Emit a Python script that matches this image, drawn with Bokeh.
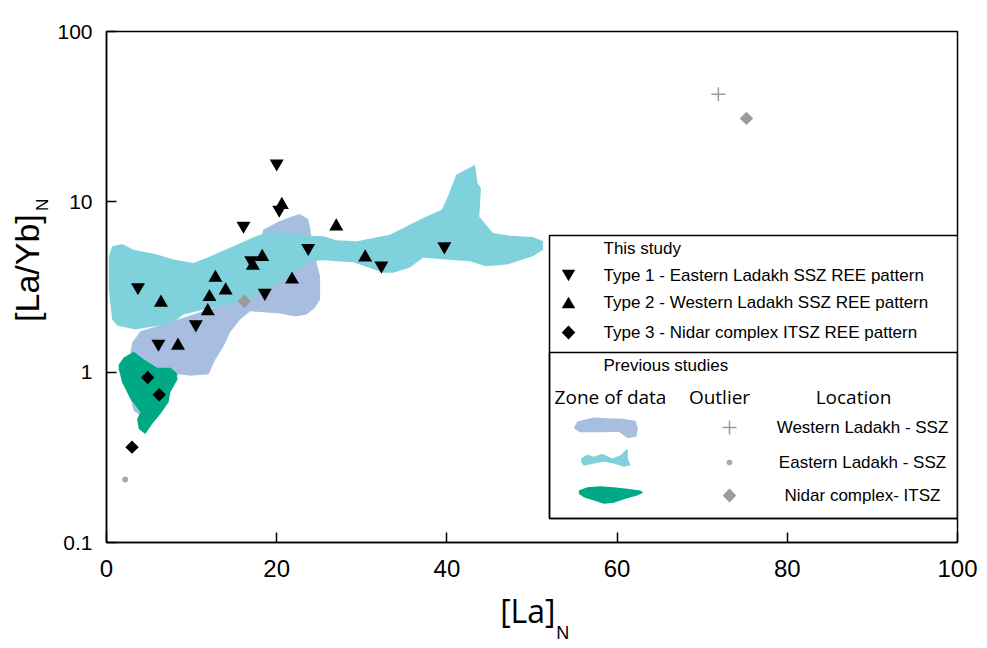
import numpy as np
from bokeh.plotting import figure
from bokeh.models import (FixedTicker, Label, BoxAnnotation, PolyAnnotation, Range1d,
                          LinearAxis, LogAxis, CustomJSTickFormatter)
from bokeh.embed import file_html
from bokeh.resources import INLINE

# ---------------- data ----------------
# This study
type1_la = [20.0, 20.3, 16.1, 3.7, 17.0, 23.7, 18.6, 10.5, 6.1, 32.3, 39.7]
type1_ratio = [16.8, 8.98, 7.24, 3.15, 4.54, 5.36, 2.92, 1.91, 1.47, 4.22, 5.48]
type2_la = [20.6, 27.0, 18.3, 17.2, 12.8, 14.0, 12.1, 11.9, 6.4, 8.4, 21.8, 30.4]
type2_ratio = [9.6, 7.17, 4.75, 4.22, 3.58, 3.02, 2.76, 2.28, 2.56, 1.43, 3.50, 4.72]
type3_la = [4.84, 6.2, 3.0]
type3_ratio = [0.93, 0.736, 0.363]

# Previous studies - outliers
west_out_la = [71.9]
west_out_ratio = [42.8]
east_out_la = [2.2]
east_out_ratio = [0.234]
nidar_out_la = [16.2, 75.2]
nidar_out_ratio = [2.61, 30.9]

# Previous studies - zones of data
east_zone_la = [0.66, 1.84, 3.20, 5.94, 7.89, 10.2, 11.8, 14.9, 17.7, 19.2, 21.6, 23.9, 25.5, 27.0,
                29.4, 33.3, 37.2, 39.4, 40.1, 41.1, 43.3, 43.6, 44.0, 43.8, 45.4, 47.4, 50.1, 51.3,
                51.3, 50.1, 47.0, 44.6, 42.7, 37.2, 35.6, 33.7, 32.5, 30.9, 29.0, 27.0, 25.5, 23.9,
                22.4, 20.0, 17.3, 14.5, 11.8, 9.06, 7.50, 5.94, 3.40, 1.25, 0.66, 0.27, 0.27]
east_zone_ratio = [5.48, 5.65, 5.24, 4.90, 4.58, 4.38, 4.69, 5.48, 6.32, 6.70, 6.56, 6.32, 6.27, 5.94,
                   5.86, 6.41, 8.03, 8.97, 10.7, 14.4, 16.5, 12.9, 12.0, 8.21, 6.56, 6.32, 6.21, 5.86,
                   5.24, 4.79, 4.28, 4.19, 4.48, 4.69, 4.10, 3.83, 3.83, 4.10, 4.42, 4.48, 4.54, 4.48,
                   4.00, 3.27, 2.79, 2.50, 2.36, 2.18, 1.91, 1.87, 1.78, 1.88, 2.04, 3.06, 4.79]

west_zone_la = [3.01, 3.99, 7.89, 13.7, 16.9, 18.4, 20.0, 21.6, 22.7, 23.7, 23.9, 24.1, 24.7, 25.1,
                25.1, 24.5, 23.5, 22.2, 20.4, 16.9, 15.7, 14.5, 13.8, 12.8, 12.0, 9.85, 8.48, 7.50,
                5.94, 3.99, 3.20, 2.73, 2.61]
west_zone_ratio = [1.49, 1.74, 2.00, 2.50, 3.20, 6.86, 7.57, 8.14, 8.47, 7.92, 7.17, 6.00, 4.38, 3.66,
                   2.67, 2.39, 2.18, 2.12, 2.21, 2.28, 2.04, 1.71, 1.43, 1.19, 0.973, 0.952, 0.973, 0.871,
                   0.665, 0.555, 0.594, 0.727, 1.14]

nidar_zone_la = [1.44, 2.03, 3.20, 4.37, 5.94, 7.50, 8.21, 8.36, 7.50, 7.30, 6.33, 5.36, 4.57, 3.79,
                 3.60, 3.99, 2.81, 1.84, 1.44]
nidar_zone_ratio = [1.11, 1.22, 1.32, 1.19, 1.06, 1.06, 0.996, 0.910, 0.761, 0.665, 0.568, 0.497, 0.434,
                    0.464, 0.531, 0.581, 0.695, 0.871, 1.04]

x_ticks = [0, 20, 40, 60, 80, 100]
y_ticks = [0.1, 1, 10, 100]
y_tick_labels = ["0.1", "1", "10", "100"]

x_title = "[La]"
y_title = "[La/Yb]"
title_sub = "N"
x_sub_at = [53.6]     # where the subscript N sits along the x axis
y_sub_at = [9.6]      # where the subscript N sits along the y axis

legend_types = ["Type 1 - Eastern Ladakh SSZ REE pattern",
                "Type 2 - Western Ladakh SSZ REE pattern",
                "Type 3 - Nidar complex ITSZ  REE pattern"]
legend_locations = ["Western Ladakh - SSZ", "Eastern Ladakh - SSZ", "Nidar complex- ITSZ"]

# ---------------- style ----------------
C_WEST = "#a7bee0"
C_EAST = "#7fd2db"
C_NIDAR = "#00a985"
C_GREY = "#9b9b9b"
HELV = "Liberation Sans"
NB = "\u00a0"

p = figure(width=984, height=645, x_range=Range1d(0, 100), y_range=Range1d(0.1, 100),
           y_axis_type="log", output_backend="svg", toolbar_location=None,
           min_border_left=106, min_border_right=27, min_border_top=31, min_border_bottom=101)
p.xgrid.visible = False
p.ygrid.visible = False
p.outline_line_color = "black"
p.outline_line_width = 1.5
p.outline_line_alpha = 1
p.background_fill_color = "white"
p.border_fill_color = "white"

for ax in (p.xaxis[0], p.yaxis[0]):
    ax.axis_line_width = 1.5
    ax.major_tick_line_width = 1.5
    ax.major_tick_in = 10
    ax.major_tick_out = 0
    ax.minor_tick_line_color = None
    ax.major_label_text_color = "black"
    ax.axis_label_text_font_style = "normal"
    ax.axis_label_text_color = "black"

p.xaxis.ticker = FixedTicker(ticks=x_ticks)
p.xaxis.major_label_text_font = HELV
p.xaxis.major_label_text_font_size = "24px"
p.xaxis.major_label_standoff = 17
p.xaxis.axis_label = x_title + NB
p.xaxis.axis_label_text_font = "Open Sans"
p.xaxis.axis_label_text_font_size = "32px"
p.xaxis.axis_label_standoff = 9

p.yaxis.ticker = FixedTicker(ticks=y_ticks, minor_ticks=[])
p.yaxis.major_label_overrides = {t: l for t, l in zip(y_ticks, y_tick_labels)}
p.yaxis.major_label_text_font = HELV
p.yaxis.major_label_text_font_size = "21px"
p.yaxis.major_label_standoff = 14
p.yaxis.axis_label = NB * 4 + y_title
p.yaxis.axis_label_text_font = HELV
p.yaxis.axis_label_text_font_size = "34px"
p.yaxis.axis_label_standoff = 8

# subscript N of the axis titles, carried by bare extra axes
sub_fmt = CustomJSTickFormatter(code="return '%s';" % title_sub)
x_sub = LinearAxis(ticker=FixedTicker(ticks=x_sub_at, minor_ticks=[]), formatter=sub_fmt,
                   axis_line_color=None, major_tick_line_color=None, minor_tick_line_color=None,
                   major_tick_in=0, major_tick_out=0, major_label_standoff=-12,
                   major_label_text_font=HELV, major_label_text_font_size="18px",
                   major_label_text_color="black")
p.add_layout(x_sub, "below")
y_sub = LogAxis(ticker=FixedTicker(ticks=y_sub_at, minor_ticks=[]), formatter=sub_fmt,
                axis_line_color=None, major_tick_line_color=None, minor_tick_line_color=None,
                major_tick_in=0, major_tick_out=0, major_label_standoff=-47,
                major_label_orientation="parallel",
                major_label_text_font=HELV, major_label_text_font_size="17px",
                major_label_text_color="black")
p.add_layout(y_sub, "left")

# zones
p.patch(west_zone_la, west_zone_ratio, fill_color=C_WEST, line_color=None)
p.patch(east_zone_la, east_zone_ratio, fill_color=C_EAST, line_color=None)
p.patch(nidar_zone_la, nidar_zone_ratio, fill_color=C_NIDAR, line_color=None)

# outliers from previous studies
p.scatter(west_out_la, west_out_ratio, marker="cross", size=14, line_color=C_GREY, line_width=1.5)
p.scatter(east_out_la, east_out_ratio, marker="circle", size=6, fill_color="#a9a9a9", line_color=None)
p.scatter(nidar_out_la, nidar_out_ratio, marker="square", angle=np.pi / 4, size=9.5,
          fill_color=C_GREY, line_color=None)

# this study
p.scatter(type1_la, type1_ratio, marker="inverted_triangle", size=14, fill_color="black", line_color=None)
p.scatter(type2_la, type2_ratio, marker="triangle", size=14, fill_color="black", line_color=None)
p.scatter(type3_la, type3_ratio, marker="square", angle=np.pi / 4, size=9.5, fill_color="black", line_color=None)


# ---------------- legend ----------------
def lab(x, y, text, size, font=HELV, align="left", baseline="middle"):
    p.add_layout(Label(x=x, y=y, x_units="screen", y_units="screen", text=text,
                       text_font=font, text_font_size=size, text_align=align,
                       text_baseline=baseline, text_color="black"))


p.add_layout(BoxAnnotation(left=443, right=851, bottom=24, top=307,
                           left_units="screen", right_units="screen",
                           bottom_units="screen", top_units="screen",
                           fill_color="white", fill_alpha=1, line_color="black",
                           line_alpha=1, line_width=1.5))
p.add_layout(BoxAnnotation(left=443, right=851, bottom=24, top=190,
                           left_units="screen", right_units="screen",
                           bottom_units="screen", top_units="screen",
                           fill_alpha=0, line_color="black", line_alpha=1, line_width=1.5))


def poly(cx, cy, offs, color, line=None, lw=1.0):
    xs = [cx + dx for dx, dy in offs]
    ys = [cy - dy for dx, dy in offs]
    p.add_layout(PolyAnnotation(xs=xs, ys=ys, xs_units="screen", ys_units="screen",
                                fill_color=color if line is None else None,
                                fill_alpha=1, line_color=line, line_alpha=1, line_width=lw))


s = 13.5
h = s * 0.866
tri_down = [(-s / 2, -h / 2), (s / 2, -h / 2), (0, h / 2)]
tri_up = [(-s / 2, h / 2), (s / 2, h / 2), (0, -h / 2)]
dia = [(0, -7), (6.8, 0), (0, 7), (-6.8, 0)]
circ = [(3 * np.cos(a), 3 * np.sin(a)) for a in np.linspace(0, 2 * np.pi, 13)[:-1]]

poly(462, 267, tri_down, "black")
poly(462, 240, tri_up, "black")
poly(462, 210, dia, "black")

lab(497, 294, "This study", "17px")
for txt, yy in zip(legend_types, [267, 240, 210]):
    lab(497, yy, txt, "17px")
lab(497, 177, "Previous studies", "17px")
lab(504, 146, "Zone of data", "19px", font="Open Sans", align="center")
lab(613, 146, "Outlier", "19px", font="Open Sans", align="center")
lab(747, 146, "Location", "19px", font="Open Sans", align="center")

blob_west = [(-31.7, 0.7), (-28.3, -6), (-11.7, -10), (1.7, -9.3), (16.7, -8.7), (30, -6.7),
             (32.3, 0.7), (31, 9), (22.3, 10.7), (13.3, 4.3), (-1.7, 4.7), (-15, 4.7), (-25.7, 4.7)]
blob_east = [(-24.3, 0), (-18.3, -4), (-11.7, -1.7), (-3.3, -4.7), (6.7, 0), (15, -3.3), (20, -8.3),
             (22.3, -9.3), (22.3, 0), (25, 6.7), (18.3, 8.3), (8.3, 5), (-1.7, 3.3), (-11.7, 5),
             (-21.7, 7.3), (-24.3, 4)]
blob_nidar = [(-31.7, -4), (-23.3, -7.3), (-10, -8.3), (3.3, -7.3), (16.7, -5.7), (30, -4), (32.7, -1.7),
              (26.7, 1), (15, 4.3), (3.3, 8.3), (-6.7, 9.3), (-16.7, 6), (-26.7, 2.7), (-31.7, -0.7)]
poly(499, 115, blob_west, C_WEST)
poly(499, 84, blob_east, C_EAST)
poly(504, 48, blob_nidar, C_NIDAR)

# outlier legend symbols
poly(623, 115, [(-7, 0), (7, 0)], None, line=C_GREY, lw=1.5)
poly(623, 115, [(0, -7), (0, 7)], None, line=C_GREY, lw=1.5)
poly(623, 80, circ, "#a9a9a9")
poly(623, 47, dia, C_GREY)

for txt, yy in zip(legend_locations, [115, 80, 47]):
    lab(756, yy, txt, "17px", align="center")

open("out.html", "w").write(file_html(p, INLINE))
